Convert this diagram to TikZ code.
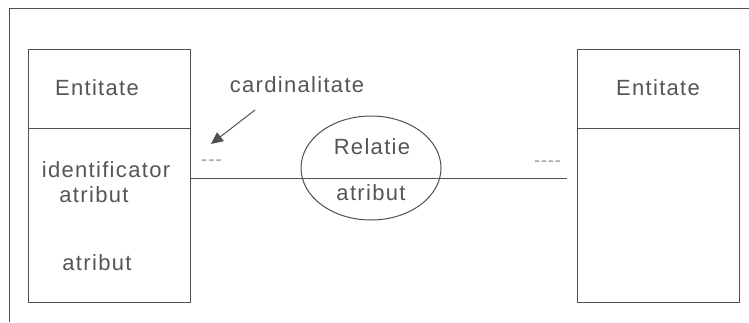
\documentclass[tikz,border=0pt]{standalone}
\usepackage{fontspec}
\setmainfont{Liberation Sans}[LetterSpace=6]
\usetikzlibrary{shapes.geometric,arrows.meta}
\definecolor{ink}{HTML}{505050}
\definecolor{txt}{HTML}{555555}
\tikzset{
  ent/.style={draw=ink, line width=1pt, minimum width=162pt, minimum height=253pt, inner sep=0pt},
  lbl/.style={text=txt, font=\fontsize{22}{24}\selectfont, inner sep=0pt, anchor=center},
  dsh/.style={text=txt, font=\fontsize{11}{12}\selectfont, inner sep=0pt},
  conn/.style={draw=ink, line width=1pt},
}
\begin{document}
\begin{tikzpicture}[x=1pt,y=-1pt]
\useasboundingbox (0,0) rectangle (749,322);
% outer frame (cropped)
\coordinate (ftl) at (9,8);
\coordinate (ftr) at (749,8);
\coordinate (fbl) at (9,322);
\draw[conn] (ftr) -- (ftl) -- (fbl);
% entities
\node[ent] (e1) at (109,175.5) {};
\node[ent] (e2) at (658,175.5) {};
\draw[conn] (e1.west |- 0,128) -- (e1.east |- 0,128);
\draw[conn] (e2.west |- 0,128) -- (e2.east |- 0,128);
\node[lbl] (t1) at (97,88) {Entitate};
\node[lbl] (t2) at (658,88) {Entitate};
\node[lbl] (id) at (106,170) {identificator};
\node[lbl] (a1) at (94,195) {atribut};
\node[lbl] (a2) at (97,263) {atribut};
% relation
\node[draw=ink, line width=1pt, ellipse, minimum width=140pt, minimum height=104pt, inner sep=0pt] (rel) at (371,168) {};
\coordinate (lend) at (567,178);
\draw[conn] (e1.east |- lend) -- (lend);
\node[lbl] (rt) at (372,147) {Relatie};
\node[lbl] (ra) at (371,193) {atribut};
% cardinality
\node[lbl] (card) at (297,85) {cardinalitate};
\coordinate (as) at (255,110);
\coordinate (at) at (211,144);
\draw[conn, -{Triangle[length=12pt,width=11pt]}] (as) -- (at);
\node[dsh] (c1) at (211.5,162) {\scalebox{1.7}[1]{{-}{-}{-}}};
\node[dsh] (c2) at (547.5,163) {\scalebox{1.6}[1]{{-}{-}{-}{-}}};
\end{tikzpicture}
\end{document}
